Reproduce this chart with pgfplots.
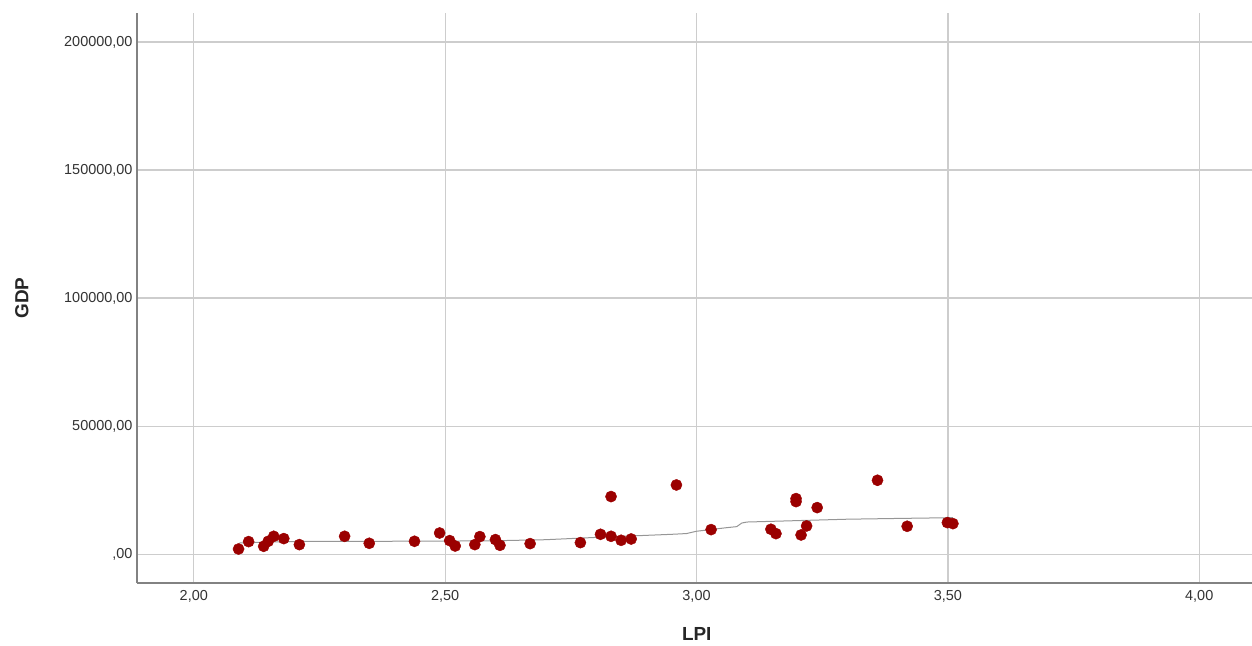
\documentclass[border=0pt]{standalone}
\usepackage{pgfplots}
\pgfplotsset{compat=1.18}
\usepackage{fontspec}
\setmainfont{Liberation Sans}
\definecolor{dotred}{RGB}{155,0,0}
\definecolor{gridgray}{RGB}{205,205,205}
\definecolor{axgray}{RGB}{130,130,130}
\definecolor{fitgray}{RGB}{150,150,150}
\begin{document}
\begin{tikzpicture}
\begin{axis}[
  scale only axis,
  width=1115bp, height=570bp,
  xmin=1.887, xmax=4.105,
  ymin=-11200, ymax=211300,
  axis x line*=bottom, axis y line*=left,
  axis line style={axgray, line width=1.2bp, -},
  xtick={2,2.5,3,3.5,4},
  xticklabels={{2,00},{2,50},{3,00},{3,50},{4,00}},
  ytick={0,50000,100000,150000,200000},
  yticklabels={{,00},{50000,00},{100000,00},{150000,00},{200000,00}},
  major tick length=0pt,
  grid=major,
  major grid style={gridgray, line width=1.3bp},
  tick label style={font=\fontsize{14.5}{17}\selectfont, text=black!80},
  xticklabel style={yshift=-4bp},
  yticklabel style={xshift=-1bp},
  xlabel={\textbf{LPI}},
  ylabel={\textbf{GDP}},
  label style={font=\fontsize{19}{21}\selectfont, text=black!85},
  xlabel style={at={(axis description cs:0.502,0)}, anchor=north, yshift=-41bp},
  ylabel style={at={(axis description cs:0,0.5)}, anchor=south, yshift=105bp},
  clip=false,
]
\addplot[fitgray, line width=1bp] coordinates {
 (2.09,4400) (2.15,4800) (2.20,5000) (2.30,5050) (2.40,5100) (2.50,5150)
 (2.60,5300) (2.70,5700) (2.80,6600) (2.85,7000) (2.95,7800) (2.98,8100)
 (3.00,9000) (3.03,9700) (3.06,10400) (3.08,10800) (3.09,12200) (3.10,12600)
 (3.20,13150) (3.30,13700) (3.40,14000) (3.51,14300)
};
\addplot[only marks, mark=*, mark size=5.6bp, mark options={draw=dotred, fill=dotred}] coordinates {
 (2.089,2070) (2.109,4960) (2.139,3130) (2.148,5080) (2.159,7030) (2.179,6130)
 (2.210,3780) (2.300,7030) (2.349,4300) (2.439,5080) (2.489,8320) (2.509,5350)
 (2.520,3240) (2.559,3780) (2.569,6910) (2.600,5740) (2.609,3520) (2.669,4170)
 (2.769,4560) (2.809,7810) (2.830,22540) (2.830,7030) (2.850,5470) (2.870,5980)
 (2.960,27070) (3.029,9640) (3.148,9770) (3.158,8070) (3.198,21750) (3.198,20570)
 (3.208,7550) (3.219,11070) (3.240,18230) (3.360,28900) (3.419,10940)
 (3.499,12380) (3.510,11980)
};
\end{axis}
\pgfresetboundingbox
\path[use as bounding box] (-137bp,-63bp) rectangle (1115bp,583bp);
\end{tikzpicture}
\end{document}
